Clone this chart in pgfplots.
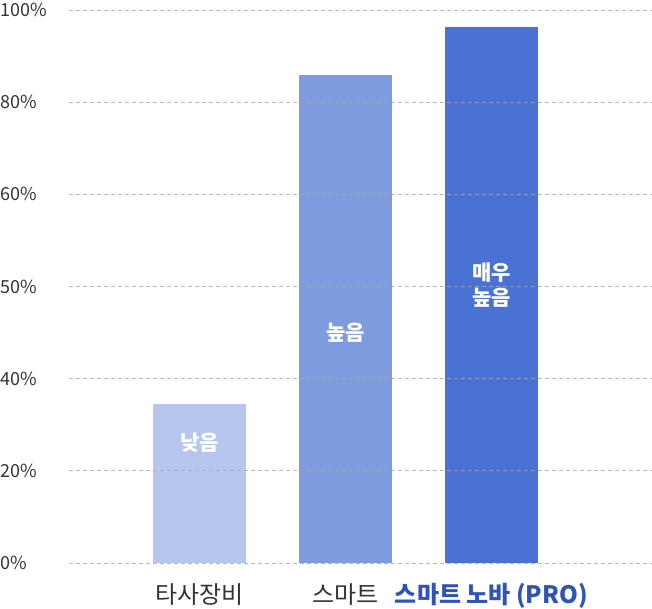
\documentclass[border=0pt]{standalone}
\usepackage{pgfplots}
\pgfplotsset{compat=1.18}
\usepackage{fontspec}
\setmainfont{Noto Sans CJK KR}
\definecolor{barA}{HTML}{B7C6EF}
\definecolor{barB}{HTML}{7F9BE0}
\definecolor{barC}{HTML}{4A72D4}
\definecolor{problue}{HTML}{2E54B8}
\definecolor{txt}{HTML}{333333}
\definecolor{gridc}{HTML}{A8A8A8}
\begin{document}
\begin{tikzpicture}
\begin{axis}[
  scale only axis,
  width=583pt, height=553pt,
  xmin=-0.894, xmax=3.10,
  ymin=0, ymax=6,
  axis line style={draw=none},
  major tick length=0pt,
  xtick={0,1,2},
  xticklabels={타사장비, 스마트, {\color{problue}\bfseries 스마트 노바 (PRO)}},
  xticklabel style={font=\fontsize{24}{26}\selectfont, text=txt, yshift=-17pt},
  ytick={0,1,2,3,4,5,6},
  yticklabels={0\%,20\%,40\%,50\%,60\%,80\%,100\%},
  yticklabel style={font=\fontsize{18}{20}\selectfont, text=txt, anchor=west, xshift=-69pt, inner sep=0pt},
  ymajorgrids,
  grid style={gridc, dash pattern=on 4pt off 3pt, line width=0.8pt, opacity=0.8},
  axis on top,
  clip=false,
]
\addplot[ybar, bar width=93pt, draw=none, fill=barA] coordinates {(0,1.72)};
\addplot[ybar, bar width=93pt, draw=none, fill=barB] coordinates {(1,5.30)};
\addplot[ybar, bar width=93pt, draw=none, fill=barC] coordinates {(2,5.82)};
\node[text=white, font=\fontsize{21}{25}\selectfont\bfseries] at (axis cs:0,1.31) {낮음};
\node[text=white, font=\fontsize{21}{25}\selectfont\bfseries] at (axis cs:1,2.50) {높음};
\node[text=white, font=\fontsize{21}{25}\selectfont\bfseries, align=center] at (axis cs:2,3.02) {매우\\높음};
\end{axis}
\pgfresetboundingbox
\path ([xshift=-69pt,yshift=-45pt]current axis.south west) rectangle ([yshift=10pt]current axis.north east);
\end{tikzpicture}
\end{document}
